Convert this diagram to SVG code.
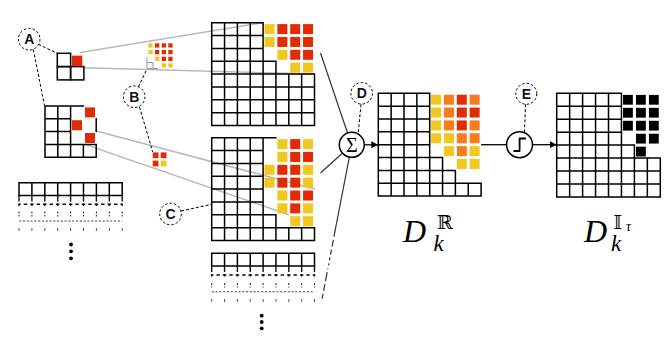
<svg xmlns="http://www.w3.org/2000/svg" width="671" height="344" viewBox="0 0 671 344">
<defs>
<marker id="arr" viewBox="0 0 8 8" refX="8" refY="4" markerWidth="7" markerHeight="7" markerUnits="userSpaceOnUse" orient="auto"><path d="M0 0L8 4L0 8z" fill="#000"/></marker>
</defs>
<style>
.g{fill:none;stroke:#000;stroke-width:1.5;stroke-linecap:square}
.Y{fill:#F3C71F}.R{fill:#E12B05}.O{fill:#F87C1B}.K{fill:#000}
.grey{stroke:#b8b8b8;stroke-width:1.5;fill:none}
.lead{stroke:#000;stroke-width:1;stroke-dasharray:3 2;fill:none}
.lab{fill:#fff;stroke:#000;stroke-width:1;stroke-dasharray:2.5 2}
.lt{font-family:"Liberation Sans",Arial,sans-serif;font-weight:bold;font-size:14px;fill:#10102a;text-anchor:middle}
.op{fill:#fff;stroke:#000;stroke-width:1.5}
.in{stroke:#333;stroke-width:1.2;fill:none}
.math{font-family:"Liberation Serif","Times New Roman",serif;font-style:italic;fill:#000}
.bb{font-family:"DejaVu Serif","DejaVu Sans",serif;fill:#000}
.dot{fill:#000}
</style>

<!-- grey projection lines -->
<g id="projections">
<path class="grey" d="M80 52.5L263.1 22.7"/>
<path class="grey" d="M83.3 67.7L314.5 74.1"/>
<path class="grey" d="M96.2 131L315 189"/>
<path class="grey" d="M85 144.4L288.8 214.8"/>
</g>

<!-- small top grid -->
<g id="small-grid-top">
<rect class="g" x="57.3" y="53.3" width="13.3" height="13.3"/>
<rect class="g" x="57.3" y="66.6" width="13.3" height="13.3"/>
<rect class="g" x="70.6" y="66.6" width="13.3" height="13.3"/>
<rect class="R" x="71.8" y="55.6" width="10.5" height="10.5"/>
</g>

<!-- small 4x4 grid -->
<g id="small-grid-4x4">
<path class="g" d="M45 106H83.4M45 118.8H70.6M45 131.6H70.6M45 144.4H96.2M45 157.2H96.2M45 106V157.2M57.8 106V157.2M70.6 106V157.2M83.4 144.4V157.2M96.2 144.4V157.2M96.2 118.8V131.6"/>
<rect class="R" x="85" y="107.4" width="10" height="10"/>
<rect class="R" x="72" y="120.2" width="10" height="10"/>
<rect class="R" x="85" y="133" width="10" height="10"/>
</g>

<!-- mini patches -->
<g id="patch-top">
<path d="M147 57V68.5H158M147 62.5H153V68.5" fill="none" stroke="#999" stroke-width="1"/>
<rect class="Y" x="148.3" y="43.3" width="4.3" height="4.3"/><rect class="R" x="155" y="43.3" width="4.3" height="4.3"/><rect class="R" x="161.7" y="43.3" width="4.3" height="4.3"/><rect class="R" x="168.3" y="43.3" width="4.3" height="4.3"/>
<rect class="Y" x="148.3" y="50" width="4.3" height="4.3"/><rect class="R" x="155" y="50" width="4.3" height="4.3"/><rect class="R" x="161.7" y="50" width="4.3" height="4.3"/><rect class="R" x="168.3" y="50" width="4.3" height="4.3"/>
<rect class="Y" x="155" y="56.7" width="4.3" height="4.3"/><rect class="R" x="161.7" y="56.7" width="4.3" height="4.3"/><rect class="R" x="168.3" y="56.7" width="4.3" height="4.3"/>
<rect class="Y" x="161.7" y="63.3" width="4.3" height="4.3"/><rect class="Y" x="168.3" y="63.3" width="4.3" height="4.3"/>
</g>
<g id="patch-bottom">
<rect class="R" x="152.7" y="152.4" width="5.8" height="5.8"/><rect class="R" x="160.7" y="152.4" width="5.8" height="5.8"/>
<rect class="R" x="152.7" y="160.6" width="5.8" height="5.8"/><rect class="Y" x="160.7" y="160.6" width="5.8" height="5.8"/>
</g>

<!-- left stack -->
<g id="stack-left">
<path class="g" d="M19 182.7H122.2M19 195.6H122.2M19 182.7V195.6M31.9 182.7V195.6M44.8 182.7V195.6M57.7 182.7V195.6M70.6 182.7V195.6M83.5 182.7V195.6M96.4 182.7V195.6M109.3 182.7V195.6M122.2 182.7V195.6"/>
<path d="M19 195.6V206M31.9 195.6V206M44.8 195.6V206M57.7 195.6V206M70.6 195.6V206M83.5 195.6V206M96.4 195.6V206M109.3 195.6V206M122.2 195.6V206" stroke="#111" stroke-width="1.4" stroke-dasharray="6 2"/>
<path d="M19 204.3H122.2" stroke="#111" stroke-width="1.4" stroke-dasharray="3.5 2.95" stroke-dashoffset="1.75"/>
<path d="M19 211.5V216.5M31.9 211.5V216.5M44.8 211.5V216.5M57.7 211.5V216.5M70.6 211.5V216.5M83.5 211.5V216.5M96.4 211.5V216.5M109.3 211.5V216.5M122.2 211.5V216.5" stroke="#333" stroke-width="1.1" stroke-dasharray="2 1.5"/>
<path d="M19 221H122.2" stroke="#444" stroke-width="1.1" stroke-dasharray="2.2 1.6"/>
<path d="M19 228V231M31.9 228V231M44.8 228V231M57.7 228V231M70.6 228V231M83.5 228V231M96.4 228V231M109.3 228V231M122.2 228V231" stroke="#555" stroke-width="1"/>
<circle class="dot" cx="71" cy="244.5" r="1.9"/><circle class="dot" cx="71" cy="251.3" r="1.9"/><circle class="dot" cx="71" cy="258.3" r="1.9"/>
</g>

<!-- top middle grid -->
<g id="grid-top">
<path class="g" d="M211.7 22.7H263.1M211.7 35.55H263.1M211.7 48.4H263.1M211.7 61.25H275.95M211.7 74.1H314.5M211.7 86.95H314.5M211.7 99.8H314.5M211.7 112.65H314.5M211.7 125.5H314.5M211.7 22.7V125.5M224.55 22.7V125.5M237.4 22.7V125.5M250.25 22.7V125.5M263.1 22.7V125.5M275.95 61.25V125.5M288.8 74.1V125.5M301.65 74.1V125.5M314.5 74.1V125.5"/>
<rect class="Y" x="264.5" y="24.1" width="10" height="10"/><rect class="R" x="277.35" y="24.1" width="10" height="10"/><rect class="R" x="290.2" y="24.1" width="10" height="10"/><rect class="R" x="303.05" y="24.1" width="10" height="10"/>
<rect class="Y" x="264.5" y="36.95" width="10" height="10"/><rect class="R" x="277.35" y="36.95" width="10" height="10"/><rect class="R" x="290.2" y="36.95" width="10" height="10"/><rect class="R" x="303.05" y="36.95" width="10" height="10"/>
<rect class="Y" x="277.35" y="49.8" width="10" height="10"/><rect class="R" x="290.2" y="49.8" width="10" height="10"/><rect class="R" x="303.05" y="49.8" width="10" height="10"/>
<rect class="Y" x="290.2" y="62.65" width="10" height="10"/><rect class="Y" x="303.05" y="62.65" width="10" height="10"/>
</g>

<!-- bottom middle grid -->
<g id="grid-bottom">
<path class="g" d="M211.7 137.7H275.95M211.7 150.55H263.1M211.7 163.4H263.1M211.7 176.25H263.1M211.7 189.1H263.1M211.7 201.95H263.1M211.7 214.8H275.95M211.7 227.65H314.5M211.7 240.5H314.5M211.7 137.7V240.5M224.55 137.7V240.5M237.4 137.7V240.5M250.25 137.7V240.5M263.1 137.7V240.5M275.95 214.8V240.5M288.8 227.65V240.5M301.65 227.65V240.5M314.5 227.65V240.5"/>
<rect class="Y" x="277.35" y="139.1" width="10" height="10"/><rect class="R" x="290.2" y="139.1" width="10" height="10"/><rect class="Y" x="303.05" y="139.1" width="10" height="10"/>
<rect class="Y" x="277.35" y="151.95" width="10" height="10"/><rect class="R" x="290.2" y="151.95" width="10" height="10"/><rect class="R" x="303.05" y="151.95" width="10" height="10"/>
<rect class="Y" x="264.5" y="164.8" width="10" height="10"/><rect class="R" x="277.35" y="164.8" width="10" height="10"/><rect class="R" x="290.2" y="164.8" width="10" height="10"/><rect class="Y" x="303.05" y="164.8" width="10" height="10"/>
<rect class="Y" x="264.5" y="177.65" width="10" height="10"/><rect class="R" x="277.35" y="177.65" width="10" height="10"/><rect class="R" x="290.2" y="177.65" width="10" height="10"/><rect class="Y" x="303.05" y="177.65" width="10" height="10"/>
<rect class="Y" x="277.35" y="190.5" width="10" height="10"/><rect class="R" x="290.2" y="190.5" width="10" height="10"/><rect class="R" x="303.05" y="190.5" width="10" height="10"/>
<rect class="Y" x="277.35" y="203.35" width="10" height="10"/><rect class="R" x="290.2" y="203.35" width="10" height="10"/><rect class="Y" x="303.05" y="203.35" width="10" height="10"/>
<rect class="Y" x="290.2" y="216.2" width="10" height="10"/><rect class="Y" x="303.05" y="216.2" width="10" height="10"/>
</g>

<!-- bottom stack -->
<g id="stack-bottom">
<path class="g" d="M211.7 253.3H314.5M211.7 266.1H314.5M211.7 253.3V266.1M224.55 253.3V266.1M237.4 253.3V266.1M250.25 253.3V266.1M263.1 253.3V266.1M275.95 253.3V266.1M288.8 253.3V266.1M301.65 253.3V266.1M314.5 253.3V266.1"/>
<path d="M211.7 266.1V276.5M224.55 266.1V276.5M237.4 266.1V276.5M250.25 266.1V276.5M263.1 266.1V276.5M275.95 266.1V276.5M288.8 266.1V276.5M301.65 266.1V276.5M314.5 266.1V276.5" stroke="#111" stroke-width="1.4" stroke-dasharray="6 2"/>
<path d="M211.7 275H314.5" stroke="#111" stroke-width="1.4" stroke-dasharray="3.5 2.925" stroke-dashoffset="1.75"/>
<path d="M211.7 283V287.5M224.55 283V287.5M237.4 283V287.5M250.25 283V287.5M263.1 283V287.5M275.95 283V287.5M288.8 283V287.5M301.65 283V287.5M314.5 283V287.5" stroke="#333" stroke-width="1.1" stroke-dasharray="2 1.5"/>
<path d="M211.7 291.7H314.5" stroke="#444" stroke-width="1.1" stroke-dasharray="2.2 1.6"/>
<path d="M211.7 299V302M224.55 299V302M237.4 299V302M250.25 299V302M263.1 299V302M275.95 299V302M288.8 299V302M301.65 299V302M314.5 299V302" stroke="#555" stroke-width="1"/>
<circle class="dot" cx="261.7" cy="315.7" r="1.9"/><circle class="dot" cx="261.7" cy="322" r="1.9"/><circle class="dot" cx="261.7" cy="328.3" r="1.9"/>
</g>

<!-- D_k^R grid -->
<g id="grid-DR">
<path class="g" d="M378.3 93.3H429.7M378.3 106.15H429.7M378.3 119H429.7M378.3 131.85H429.7M378.3 144.7H429.7M378.3 157.55H442.55M378.3 170.4H455.4M378.3 183.25H481.1M378.3 196.1H481.1M378.3 93.3V196.1M391.15 93.3V196.1M404 93.3V196.1M416.85 93.3V196.1M429.7 93.3V196.1M442.55 157.55V196.1M455.4 170.4V196.1M468.25 183.25V196.1M481.1 183.25V196.1"/>
<rect class="Y" x="431.1" y="94.7" width="10" height="10"/><rect class="O" x="443.95" y="94.7" width="10" height="10"/><rect class="R" x="456.8" y="94.7" width="10" height="10"/><rect class="O" x="469.65" y="94.7" width="10" height="10"/>
<rect class="Y" x="431.1" y="107.55" width="10" height="10"/><rect class="O" x="443.95" y="107.55" width="10" height="10"/><rect class="R" x="456.8" y="107.55" width="10" height="10"/><rect class="R" x="469.65" y="107.55" width="10" height="10"/>
<rect class="Y" x="431.1" y="120.4" width="10" height="10"/><rect class="O" x="443.95" y="120.4" width="10" height="10"/><rect class="R" x="456.8" y="120.4" width="10" height="10"/><rect class="O" x="469.65" y="120.4" width="10" height="10"/>
<rect class="Y" x="431.1" y="133.25" width="10" height="10"/><rect class="Y" x="443.95" y="133.25" width="10" height="10"/><rect class="O" x="456.8" y="133.25" width="10" height="10"/><rect class="O" x="469.65" y="133.25" width="10" height="10"/>
<rect class="Y" x="443.95" y="146.1" width="10" height="10"/><rect class="O" x="456.8" y="146.1" width="10" height="10"/><rect class="Y" x="469.65" y="146.1" width="10" height="10"/>
<rect class="Y" x="456.8" y="158.95" width="10" height="10"/><rect class="Y" x="469.65" y="158.95" width="10" height="10"/>
</g>

<!-- D_k^I grid -->
<g id="grid-DI">
<path class="g" d="M556.7 93.3H621.45M556.7 106.25H621.45M556.7 119.2H621.45M556.7 132.15H621.45M556.7 145.1H634.4M556.7 158.05H660.3M556.7 171H660.3M556.7 183.95H660.3M556.7 196.9H660.3M556.7 93.3V196.9M569.65 93.3V196.9M582.6 93.3V196.9M595.55 93.3V196.9M608.5 93.3V196.9M621.45 93.3V196.9M634.4 145.1V196.9M647.35 158.05V196.9M660.3 158.05V196.9"/>
<rect class="K" x="623.05" y="94.9" width="9.8" height="9.8"/><rect class="K" x="636" y="94.9" width="9.8" height="9.8"/><rect class="K" x="648.95" y="94.9" width="9.8" height="9.8"/>
<rect class="K" x="623.05" y="107.85" width="9.8" height="9.8"/><rect class="K" x="636" y="107.85" width="9.8" height="9.8"/><rect class="K" x="648.95" y="107.85" width="9.8" height="9.8"/>
<rect class="K" x="623.05" y="120.8" width="9.8" height="9.8"/><rect class="K" x="636" y="120.8" width="9.8" height="9.8"/><rect class="K" x="648.95" y="120.8" width="9.8" height="9.8"/>
<rect class="K" x="636" y="133.75" width="9.8" height="9.8"/><rect class="K" x="648.95" y="133.75" width="9.8" height="9.8"/>
<rect class="K" x="636" y="146.7" width="9.8" height="9.8"/>
</g>

<!-- connectors -->
<g id="connectors">
<path class="lead" d="M38.3 44.3L57.3 53.3"/>
<path class="lead" d="M33.3 49.5L44.6 106"/>
<path class="lead" d="M138.3 87L146.7 69.5"/>
<path class="lead" d="M139.5 107L152.7 152"/>
<path class="lead" d="M181.2 211L211.7 204.3"/>
<path class="lead" d="M361 104.3L358.2 133.5"/>
<path class="lead" d="M525.5 104.3L524.5 133"/>
<path class="in" d="M320.5 53L347.6 133.2"/>
<path class="in" d="M320.5 173L342.3 153.3"/>
<path class="in" d="M349.3 157.3L335.6 228"/>
<path class="in" d="M335.6 228L321.7 301" stroke-dasharray="9 3 7 3 5 3 3 3 2 3 1 3"/>
<path d="M364.3 144.8H378.3" stroke="#000" stroke-width="1.3" marker-end="url(#arr)"/>
<path d="M481.1 144.7H506.5" stroke="#000" stroke-width="1.3"/>
<path d="M532.5 144.7H556.7" stroke="#000" stroke-width="1.3" marker-end="url(#arr)"/>
</g>

<!-- operators -->
<g id="sum-node">
<circle class="op" cx="351.8" cy="144.8" r="12.5"/>
<text x="351.8" y="151.5" text-anchor="middle" font-family="Liberation Serif,serif" font-size="20">Σ</text>
</g>
<g id="threshold-node">
<circle class="op" cx="519.5" cy="144.7" r="13"/>
<path d="M513.5 151H519.6V138.5H526" fill="none" stroke="#000" stroke-width="1.8" stroke-linejoin="round"/>
</g>

<!-- labels -->
<g id="label-A"><circle class="lab" cx="29.2" cy="39.2" r="10.8"/><text class="lt" x="29.2" y="44.2">A</text></g>
<g id="label-B"><circle class="lab" cx="134.2" cy="96.7" r="10.8"/><text class="lt" x="134.2" y="101.7">B</text></g>
<g id="label-C"><circle class="lab" cx="170.5" cy="214" r="10.8"/><text class="lt" x="170.5" y="219">C</text></g>
<g id="label-D"><circle class="lab" cx="361.7" cy="93.3" r="10.8"/><text class="lt" x="361.7" y="98.3">D</text></g>
<g id="label-E"><circle class="lab" cx="526.3" cy="93.8" r="10.5"/><text class="lt" x="526.3" y="98.8">E</text></g>

<g id="title-DR">
<text class="math" x="403" y="242" font-size="32">D</text>
<text class="bb" x="437" y="229" font-size="19">ℝ</text>
<text class="math" x="433.5" y="250.5" font-size="23">k</text>
</g>
<g id="title-DI">
<text class="math" x="584" y="242" font-size="32">D</text>
<text class="bb" x="613.5" y="228.5" font-size="18">𝕀</text>
<text class="math" x="626" y="230.5" font-size="14">τ</text>
<text class="math" x="611" y="250.5" font-size="23">k</text>
</g>
</svg>
